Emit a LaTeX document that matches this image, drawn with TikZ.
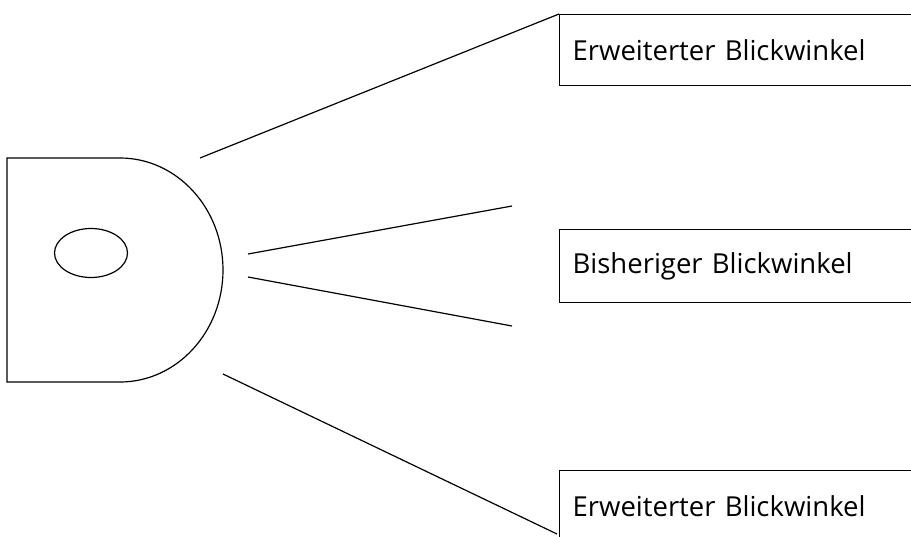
\documentclass[tikz,border=0pt]{standalone}
\usepackage{fontspec}
\setmainfont{Open Sans}
\usetikzlibrary{shapes.geometric}
\begin{document}
\begin{tikzpicture}[x=1pt, y=-1pt, line width=1.2pt]
\tikzstyle{kasten}=[draw, anchor=north west, minimum width=400pt, minimum height=71pt, text width=374pt, inner xsep=13pt, align=left, font=\fontsize{27.5}{32}\selectfont]
\tikzstyle{linie}=[line width=1.2pt]
\useasboundingbox (0,0) rectangle (911,536);
\clip (0,0) rectangle (911,536);
% Kopf
\draw (120,382) -- (7,382) -- (7,158) -- (120,158) arc[start angle=-90, end angle=90, x radius=103, y radius=112];
\node[draw, ellipse, minimum width=73pt, minimum height=49pt, inner sep=0pt] (auge) at (91,253) {};
% Kaesten
\node[kasten] (oben) at (559,14) {Erweiterter Blickwinkel};
\node[kasten, minimum height=73pt] (mitte) at (559,229) {Bisheriger Blickwinkel};
\node[kasten] (unten) at (559,470) {Erweiterter Blickwinkel};
% Blickwinkel
\coordinate (a1) at (200,158);
\coordinate (a2) at (248,254);
\coordinate (a3) at (248,277);
\coordinate (a4) at (223,374);
\coordinate (e2) at (512,206);
\coordinate (e3) at (512,326);
\coordinate (e4) at (557,534);
\draw[linie] (a1) -- (oben.north west);
\draw[linie] (a2) -- (e2);
\draw[linie] (a3) -- (e3);
\draw[linie] (a4) -- (e4);
\end{tikzpicture}
\end{document}
